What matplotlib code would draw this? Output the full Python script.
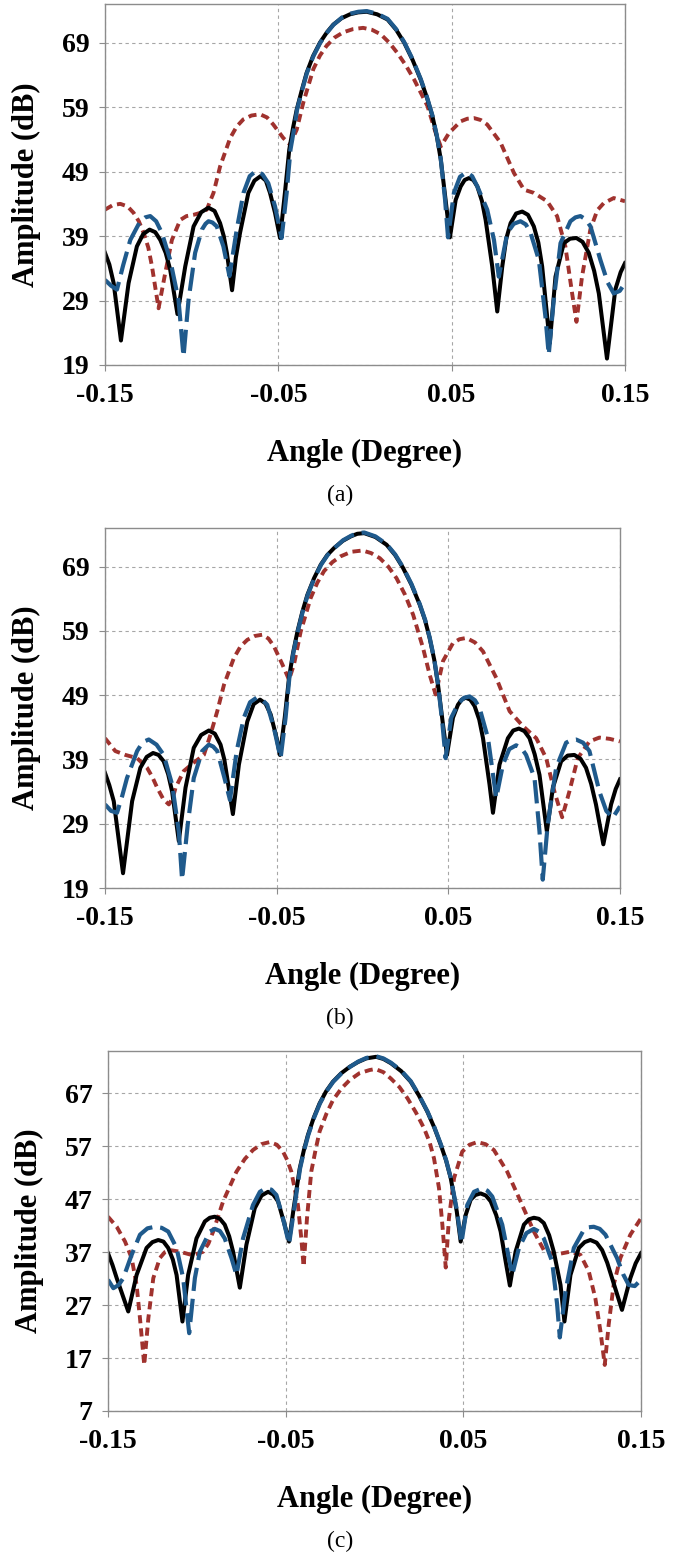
import matplotlib.pyplot as plt

# angle (degree), amplitude (dB) pairs
a_black = [(-0.150, 36.4), (-0.1475, 34.6), (-0.145, 31.7), (-0.1408, 22.8), (-0.1364, 31.7), (-0.1316, 37.4),
           (-0.1280, 39.3), (-0.1243, 40.0), (-0.1210, 39.6), (-0.1181, 38.4), (-0.1150, 36.4), (-0.1124, 33.8),
           (-0.1082, 26.9), (-0.1037, 34.3), (-0.0989, 40.5), (-0.0945, 42.7), (-0.0903, 43.4), (-0.0868, 42.9),
           (-0.0836, 41.0), (-0.0815, 39.0), (-0.0797, 36.4), (-0.0767, 30.6), (-0.0745, 35.7), (-0.0721, 39.5),
           (-0.0673, 45.7), (-0.0638, 47.6), (-0.0602, 48.3), (-0.0572, 47.6), (-0.0548, 45.7), (-0.0519, 42.6),
           (-0.0490, 38.7), (-0.0462, 45.7), (-0.0437, 52.4), (-0.0415, 55.8), (-0.0394, 58.6), (-0.0365, 61.6),
           (-0.0337, 64.3), (-0.0300, 66.9), (-0.0260, 69.0), (-0.0220, 70.6), (-0.0183, 71.8), (-0.0135, 72.8),
           (-0.0087, 73.4), (-0.0040, 73.7), (0.0010, 73.8), (0.0070, 73.4), (0.0130, 72.6), (0.0180, 71.0),
           (0.0226, 69.0), (0.0275, 66.3), (0.0321, 63.3), (0.0357, 60.5), (0.0389, 57.6), (0.0415, 54.4),
           (0.0437, 50.9), (0.0465, 44.6), (0.0490, 38.8), (0.0523, 44.6), (0.0552, 46.7), (0.0575, 47.7),
           (0.0600, 48.0), (0.0625, 47.7), (0.0648, 46.7), (0.0675, 44.4), (0.0696, 41.5), (0.0734, 34.3),
           (0.0763, 27.3), (0.0792, 34.3), (0.0815, 38.6), (0.0840, 41.0), (0.0872, 42.5), (0.0907, 42.8),
           (0.0940, 42.3), (0.0974, 40.5), (0.1000, 38.0), (0.1022, 34.3), (0.1066, 22.4), (0.1099, 32.7),
           (0.1147, 37.9), (0.1183, 38.6), (0.1220, 38.7), (0.1255, 38.1), (0.1291, 36.4), (0.1322, 33.6),
           (0.1349, 30.1), (0.1396, 20.0), (0.1444, 30.7), (0.1475, 33.4), (0.150, 34.8)]
a_blue = [(-0.150, 32.2), (-0.1465, 31.3), (-0.1431, 30.7), (-0.1395, 34.5), (-0.1354, 38.4), (-0.1297, 41.3),
          (-0.1268, 41.9), (-0.1239, 42.1), (-0.1205, 41.3), (-0.1172, 39.5), (-0.1124, 35.3), (-0.1076, 29.1),
          (-0.1047, 20.3), (-0.1018, 29.1), (-0.0980, 36.4), (-0.0941, 40.0), (-0.0920, 40.9), (-0.0903, 41.3),
          (-0.0880, 41.1), (-0.0855, 40.5), (-0.0817, 37.4), (-0.0782, 32.8), (-0.0740, 40.0), (-0.0701, 45.7),
          (-0.0665, 48.3), (-0.0629, 49.1), (-0.0592, 48.6), (-0.0558, 47.2), (-0.0519, 43.6), (-0.0481, 38.7),
          (-0.0452, 45.7), (-0.0430, 52.4), (-0.0408, 55.8), (-0.0392, 58.6), (-0.0363, 61.6), (-0.0335, 64.3),
          (-0.0298, 66.9), (-0.0258, 69.0), (-0.0218, 70.6), (-0.0181, 71.8), (-0.0133, 72.9), (-0.0085, 73.5),
          (-0.0038, 73.8), (0.0010, 73.9), (0.0070, 73.5), (0.0130, 72.7), (0.0180, 71.1), (0.0226, 69.1),
          (0.0275, 66.4), (0.0321, 63.4), (0.0357, 60.6), (0.0389, 57.7), (0.0415, 54.5), (0.0437, 51.0),
          (0.0462, 44.6), (0.0479, 38.8), (0.0513, 45.7), (0.0548, 48.2), (0.0586, 48.9), (0.0618, 48.3),
          (0.0648, 46.7), (0.0705, 43.1), (0.0744, 38.4), (0.0772, 32.7), (0.0821, 39.5), (0.0858, 40.9),
          (0.0897, 41.3), (0.0928, 40.8), (0.0955, 39.5), (0.1003, 35.3), (0.1041, 26.5), (0.1060, 20.6),
          (0.1089, 29.1), (0.1128, 37.9), (0.1185, 41.3), (0.1214, 41.9), (0.1243, 42.1), (0.1273, 41.6),
          (0.1301, 40.5), (0.1358, 35.3), (0.1400, 31.8), (0.1435, 30.1), (0.1470, 30.5), (0.150, 31.7)]
a_red = [(-0.150, 43.1), (-0.1455, 43.8), (-0.1412, 44.0), (-0.1370, 43.6), (-0.1335, 42.6), (-0.1305, 41.3),
         (-0.1277, 39.5), (-0.1250, 37.2), (-0.1229, 34.3), (-0.1191, 27.8), (-0.1153, 33.2), (-0.1114, 38.4),
         (-0.1066, 41.5), (-0.1030, 42.1), (-0.0989, 42.3), (-0.0950, 42.6), (-0.0913, 43.1), (-0.0874, 45.7),
         (-0.0836, 49.8), (-0.0778, 54.2), (-0.0740, 56.0), (-0.0702, 57.1), (-0.0655, 57.7), (-0.0606, 57.9),
         (-0.0565, 57.4), (-0.0529, 56.3), (-0.0471, 54.2), (-0.0433, 53.2), (-0.0394, 55.5), (-0.0356, 59.7),
         (-0.0298, 64.9), (-0.0260, 67.0), (-0.0222, 68.5), (-0.0175, 69.8), (-0.0126, 70.6), (-0.0070, 71.1),
         (-0.0011, 71.3), (0.0040, 71.0), (0.0091, 70.3), (0.0140, 69.0), (0.0187, 67.4), (0.0235, 65.5),
         (0.0283, 63.3), (0.0360, 59.2), (0.0408, 55.0), (0.0437, 52.9), (0.0485, 55.0), (0.0552, 56.8),
         (0.0590, 57.2), (0.0629, 57.3), (0.0668, 57.0), (0.0705, 56.3), (0.0782, 53.5), (0.0859, 48.8),
         (0.0917, 46.2), (0.0974, 45.7), (0.1051, 44.4), (0.1108, 42.1), (0.1156, 37.4), (0.1195, 30.1),
         (0.1220, 25.7), (0.1252, 32.7), (0.1300, 40.0), (0.1340, 43.0), (0.1377, 44.1), (0.1435, 44.9),
         (0.150, 44.4)]

b_black = [(-0.150, 36.9), (-0.1475, 35.0), (-0.1449, 32.5), (-0.1395, 21.3), (-0.1342, 32.5), (-0.1294, 37.7),
           (-0.1257, 39.4), (-0.1220, 40.0), (-0.1188, 39.7), (-0.1158, 38.7), (-0.1132, 36.7), (-0.1109, 34.0),
           (-0.1070, 26.3), (-0.1031, 34.6), (-0.0983, 40.8), (-0.0940, 42.8), (-0.0895, 43.5), (-0.0860, 43.0),
           (-0.0827, 41.3), (-0.0805, 39.0), (-0.0788, 36.1), (-0.0755, 30.5), (-0.0720, 38.2), (-0.0671, 44.9),
           (-0.0634, 47.6), (-0.0597, 48.3), (-0.0565, 47.7), (-0.0535, 46.0), (-0.0500, 42.3), (-0.0481, 39.7),
           (-0.0453, 45.5), (-0.0428, 51.7), (-0.0405, 55.5), (-0.0379, 58.9), (-0.0350, 62.0), (-0.0321, 64.6),
           (-0.0282, 67.2), (-0.0243, 69.3), (-0.0205, 70.8), (-0.0165, 71.9), (-0.0115, 73.0), (-0.0068, 73.7),
           (-0.0030, 74.1), (0.0010, 74.2), (0.0075, 73.6), (0.0140, 72.4), (0.0190, 70.8), (0.0236, 68.8),
           (0.0285, 66.2), (0.0333, 63.1), (0.0365, 60.6), (0.0391, 57.9), (0.0418, 54.5), (0.0440, 50.6),
           (0.0469, 44.4), (0.0492, 39.7), (0.0527, 45.5), (0.0556, 47.5), (0.0578, 48.3), (0.0601, 48.6),
           (0.0628, 48.3), (0.0653, 47.3), (0.0680, 45.2), (0.0702, 42.3), (0.0740, 35.1), (0.0760, 30.7),
           (0.0798, 38.2), (0.0847, 42.3), (0.0878, 43.5), (0.0911, 43.8), (0.0943, 43.4), (0.0973, 42.3),
           (0.1003, 39.8), (0.1031, 36.6), (0.1074, 27.8), (0.1109, 34.6), (0.1157, 38.7), (0.1195, 39.6),
           (0.1234, 39.7), (0.1270, 39.1), (0.1302, 37.7), (0.1332, 35.2), (0.1360, 32.0), (0.1403, 25.8),
           (0.1448, 32.0), (0.1475, 34.4), (0.150, 35.9)]
b_blue = [(-0.150, 32.0), (-0.1465, 31.0), (-0.1430, 30.7), (-0.1400, 33.3), (-0.1372, 36.1), (-0.1313, 40.3),
          (-0.1280, 41.7), (-0.1245, 42.1), (-0.1200, 41.3), (-0.1158, 39.7), (-0.1109, 35.1), (-0.1070, 27.8),
          (-0.1051, 20.3), (-0.1018, 28.9), (-0.0983, 36.1), (-0.0934, 40.3), (-0.0895, 41.3), (-0.0870, 41.0),
          (-0.0846, 40.3), (-0.0804, 36.1), (-0.0772, 32.7), (-0.0733, 40.3), (-0.0691, 45.5), (-0.0655, 47.9),
          (-0.0617, 48.6), (-0.0585, 48.3), (-0.0555, 47.5), (-0.0516, 43.9), (-0.0477, 39.2), (-0.0448, 45.5),
          (-0.0426, 51.7), (-0.0403, 55.5), (-0.0377, 58.9), (-0.0348, 62.0), (-0.0319, 64.6), (-0.0280, 67.2),
          (-0.0241, 69.3), (-0.0203, 70.8), (-0.0163, 71.9), (-0.0113, 73.1), (-0.0066, 73.8), (-0.0028, 74.2),
          (0.0010, 74.3), (0.0075, 73.7), (0.0140, 72.5), (0.0190, 70.9), (0.0236, 68.9), (0.0285, 66.3),
          (0.0333, 63.2), (0.0365, 60.7), (0.0391, 58.0), (0.0418, 54.6), (0.0440, 50.7), (0.0466, 44.4),
          (0.0484, 39.2), (0.0517, 45.5), (0.0560, 47.8), (0.0592, 48.6), (0.0624, 48.8), (0.0655, 48.2),
          (0.0682, 47.0), (0.0731, 42.3), (0.0779, 33.0), (0.0818, 38.2), (0.0855, 40.6), (0.0895, 41.2),
          (0.0925, 40.8), (0.0953, 39.7), (0.1002, 36.1), (0.1031, 27.8), (0.1050, 20.3), (0.1079, 28.9),
          (0.1128, 37.7), (0.1186, 41.6), (0.1215, 42.0), (0.1244, 42.1), (0.1285, 41.6), (0.1322, 40.3),
          (0.1380, 34.0), (0.1420, 31.0), (0.1457, 29.9), (0.150, 31.7)]
b_red = [(-0.150, 42.3), (-0.1440, 40.3), (-0.1381, 39.7), (-0.1313, 39.2), (-0.1255, 37.7), (-0.1225, 36.3),
         (-0.1196, 34.6), (-0.1160, 32.8), (-0.1128, 32.0), (-0.1105, 33.0), (-0.1089, 34.6), (-0.1041, 37.2),
         (-0.0983, 38.5), (-0.0924, 39.7), (-0.0885, 42.9), (-0.0846, 46.5), (-0.0807, 50.6), (-0.0749, 54.8),
         (-0.0710, 56.6), (-0.0671, 57.6), (-0.0628, 58.2), (-0.0584, 58.4), (-0.0548, 57.8), (-0.0516, 56.6),
         (-0.0467, 53.8), (-0.0428, 51.4), (-0.0399, 53.8), (-0.0360, 58.9), (-0.0302, 64.1), (-0.0263, 66.5),
         (-0.0224, 68.3), (-0.0175, 69.7), (-0.0127, 70.6), (-0.0065, 71.3), (0.0000, 71.5), (0.0050, 71.1),
         (0.0101, 70.3), (0.0150, 69.0), (0.0198, 67.2), (0.0248, 64.6), (0.0295, 61.5), (0.0353, 56.3),
         (0.0391, 52.2), (0.0426, 49.1), (0.0469, 54.3), (0.0527, 57.1), (0.0565, 57.7), (0.0605, 57.9),
         (0.0655, 57.2), (0.0702, 55.8), (0.0779, 51.7), (0.0857, 46.5), (0.0934, 44.2), (0.1012, 42.3),
         (0.1070, 39.2), (0.1118, 34.0), (0.1163, 30.0), (0.1205, 34.0), (0.1254, 39.2), (0.1322, 41.8),
         (0.1380, 42.4), (0.1440, 42.2), (0.150, 41.8)]

c_black = [(-0.150, 36.8), (-0.1475, 34.6), (-0.1451, 32.1), (-0.1386, 25.8), (-0.1339, 32.7), (-0.1283, 37.8),
           (-0.1250, 38.9), (-0.1217, 39.3), (-0.1188, 39.0), (-0.1161, 37.8), (-0.1135, 35.6), (-0.1114, 32.7),
           (-0.1081, 23.9), (-0.1049, 32.7), (-0.1002, 39.6), (-0.0955, 42.8), (-0.0927, 43.5), (-0.0899, 43.7),
           (-0.0870, 43.3), (-0.0843, 42.2), (-0.0818, 40.0), (-0.0796, 37.1), (-0.0758, 30.3), (-0.0721, 38.4),
           (-0.0674, 45.3), (-0.0636, 47.7), (-0.0599, 48.4), (-0.0570, 47.9), (-0.0543, 46.6), (-0.0506, 42.2),
           (-0.0481, 39.0), (-0.0455, 45.3), (-0.0421, 52.8), (-0.0398, 56.2), (-0.0375, 59.1), (-0.0342, 62.4),
           (-0.0309, 65.1), (-0.0272, 67.4), (-0.0234, 69.2), (-0.0187, 70.8), (-0.0140, 72.0), (-0.0094, 72.9),
           (-0.0047, 73.6), (0.0009, 73.9), (0.0050, 73.5), (0.0092, 72.7), (0.0150, 71.2), (0.0204, 69.2),
           (0.0250, 66.6), (0.0298, 63.5), (0.0337, 60.5), (0.0373, 57.3), (0.0403, 54.3), (0.0429, 51.0),
           (0.0463, 44.7), (0.0485, 39.0), (0.0513, 44.0), (0.0541, 46.9), (0.0568, 47.8), (0.0597, 48.1),
           (0.0627, 47.7), (0.0654, 46.6), (0.0685, 44.0), (0.0710, 40.9), (0.0738, 35.3), (0.0762, 30.7),
           (0.0794, 37.1), (0.0841, 42.2), (0.0869, 43.2), (0.0897, 43.5), (0.0925, 43.3), (0.0953, 42.5),
           (0.0983, 40.2), (0.1009, 37.1), (0.1047, 30.8), (0.1069, 23.9), (0.1103, 32.7), (0.1150, 37.8),
           (0.1183, 38.9), (0.1215, 39.3), (0.1250, 38.8), (0.1281, 37.4), (0.1310, 35.0), (0.1337, 32.1),
           (0.1393, 26.1), (0.1440, 32.1), (0.1470, 34.9), (0.150, 36.8)]
c_blue = [(-0.150, 31.8), (-0.1470, 30.2), (-0.1440, 30.8), (-0.1414, 32.1), (-0.1367, 36.5), (-0.1320, 40.3),
          (-0.1278, 41.5), (-0.1236, 41.8), (-0.1198, 41.6), (-0.1161, 40.9), (-0.1114, 37.8), (-0.1077, 32.1),
          (-0.1043, 21.7), (-0.1011, 32.1), (-0.0983, 37.1), (-0.0927, 40.9), (-0.0899, 41.4), (-0.0870, 41.0),
          (-0.0843, 39.6), (-0.0805, 35.9), (-0.0777, 32.7), (-0.0740, 39.6), (-0.0684, 45.9), (-0.0645, 48.4),
          (-0.0609, 49.1), (-0.0580, 48.8), (-0.0552, 47.8), (-0.0515, 43.4), (-0.0481, 38.5), (-0.0449, 45.9),
          (-0.0419, 52.8), (-0.0396, 56.2), (-0.0373, 59.1), (-0.0340, 62.4), (-0.0307, 65.1), (-0.0270, 67.4),
          (-0.0232, 69.2), (-0.0185, 70.8), (-0.0138, 72.0), (-0.0092, 73.0), (-0.0045, 73.7), (0.0009, 74.0),
          (0.0050, 73.6), (0.0092, 72.8), (0.0150, 71.3), (0.0204, 69.3), (0.0250, 66.7), (0.0298, 63.6),
          (0.0337, 60.6), (0.0373, 57.4), (0.0403, 54.4), (0.0429, 51.1), (0.0465, 44.7), (0.0489, 38.7),
          (0.0522, 45.9), (0.0560, 48.4), (0.0607, 49.1), (0.0636, 48.6), (0.0663, 47.5), (0.0719, 42.2),
          (0.0775, 32.7), (0.0813, 37.8), (0.0855, 40.6), (0.0897, 41.4), (0.0925, 40.9), (0.0953, 39.6),
          (0.1000, 35.2), (0.1028, 27.1), (0.1043, 20.9), (0.1075, 29.6), (0.1122, 37.8), (0.1178, 41.2),
          (0.1206, 41.7), (0.1234, 41.8), (0.1268, 41.4), (0.1300, 40.3), (0.1365, 35.9), (0.1400, 32.8),
          (0.1431, 30.8), (0.1465, 30.6), (0.150, 31.8)]
c_red = [(-0.150, 43.7), (-0.1451, 41.8), (-0.1404, 39.0), (-0.1367, 35.9), (-0.1339, 30.8), (-0.1320, 24.5),
         (-0.1296, 15.7), (-0.1273, 24.5), (-0.1245, 32.1), (-0.1208, 35.9), (-0.1180, 37.0), (-0.1152, 37.4),
         (-0.1096, 37.1), (-0.1021, 36.4), (-0.0964, 37.1), (-0.0935, 38.6), (-0.0908, 40.9), (-0.0852, 46.6),
         (-0.0777, 52.2), (-0.0730, 54.6), (-0.0684, 56.3), (-0.0637, 57.4), (-0.0590, 57.8), (-0.0550, 57.3),
         (-0.0515, 56.0), (-0.0490, 54.3), (-0.0468, 52.2), (-0.0431, 45.9), (-0.0412, 39.6), (-0.0399, 34.3),
         (-0.0380, 43.4), (-0.0356, 52.2), (-0.0330, 56.6), (-0.0309, 59.8), (-0.0270, 63.2), (-0.0234, 65.7),
         (-0.0187, 67.9), (-0.0140, 69.5), (-0.0085, 70.8), (-0.0028, 71.4), (0.0005, 71.6), (0.0050, 71.0),
         (0.0092, 69.8), (0.0140, 68.2), (0.0185, 66.1), (0.0233, 63.4), (0.0279, 60.4), (0.0310, 57.8),
         (0.0335, 54.7), (0.0363, 49.1), (0.0382, 42.2), (0.0401, 34.1), (0.0419, 43.4), (0.0448, 51.0),
         (0.0494, 56.0), (0.0535, 57.3), (0.0579, 57.8), (0.0625, 57.4), (0.0672, 56.3), (0.0747, 52.2),
         (0.0822, 46.6), (0.0897, 40.9), (0.0953, 37.4), (0.0990, 36.8), (0.1028, 36.6), (0.1103, 37.1),
         (0.1159, 36.5), (0.1206, 33.4), (0.1243, 28.3), (0.1272, 22.0), (0.1296, 15.7), (0.1318, 23.3),
         (0.1346, 30.8), (0.1384, 35.9), (0.1440, 40.3), (0.150, 43.4)]

xticks = [-0.15, -0.05, 0.05, 0.15]
yticks_ab = [19, 29, 39, 49, 59, 69]
yticks_c = [7, 17, 27, 37, 47, 57, 67]

plt.rcParams["font.family"] = ["Liberation Serif", "DejaVu Serif"]

fig = plt.figure(figsize=(6.84, 15.55), dpi=100)


def panel(rect, red, black, blue, yticks, tag):
    ax = fig.add_axes(rect)
    x, y = zip(*red)
    ax.plot(x, y, color="#A0322E", lw=2.8, dashes=(2.1, 1.3), solid_joinstyle="round")
    x, y = zip(*black)
    ax.plot(x, y, color="black", lw=2.9, solid_joinstyle="round")
    x, y = zip(*blue)
    ax.plot(x, y, color="#1F5A8C", lw=3.0, dashes=(5.6, 1.9), dash_joinstyle="round")
    ax.set_xlim(-0.15, 0.15)
    ax.set_ylim(yticks[0], 75)
    ax.set_xticks(xticks)
    ax.set_xticklabels([f"{t:g}" for t in xticks])
    ax.set_yticks(yticks)
    ax.grid(True, color="#a6a6a6", linestyle=(0, (3, 3)), linewidth=0.8)
    for s in ax.spines.values():
        s.set_color("#8c8c8c")
        s.set_linewidth(1.0)
    ax.tick_params(axis="both", direction="out", length=4, color="#8c8c8c", labelsize=20)
    ax.tick_params(axis="x", pad=9)
    ax.tick_params(axis="y", pad=7)
    for lab in ax.get_xticklabels() + ax.get_yticklabels():
        lab.set_fontweight("bold")
    ax.set_xlabel("Angle (Degree)", fontsize=22, fontweight="bold", labelpad=22)
    ax.set_ylabel("Amplitude (dB)", fontsize=22, fontweight="bold", labelpad=15)
    pos = ax.get_position()
    fig.text(340 / 684, pos.y0 - 130 / 1555, tag, ha="center", va="center", fontsize=17)
    return ax


panel([105 / 684, 1 - 365 / 1555, 520 / 684, 361 / 1555], a_red, a_black, a_blue, yticks_ab, "(a)")
panel([105 / 684, 1 - 888 / 1555, 515 / 684, 360 / 1555], b_red, b_black, b_blue, yticks_ab, "(b)")
panel([108 / 684, 1 - 1411 / 1555, 533 / 684, 360 / 1555], c_red, c_black, c_blue, yticks_c, "(c)")

fig.savefig("out.png", dpi=100)
